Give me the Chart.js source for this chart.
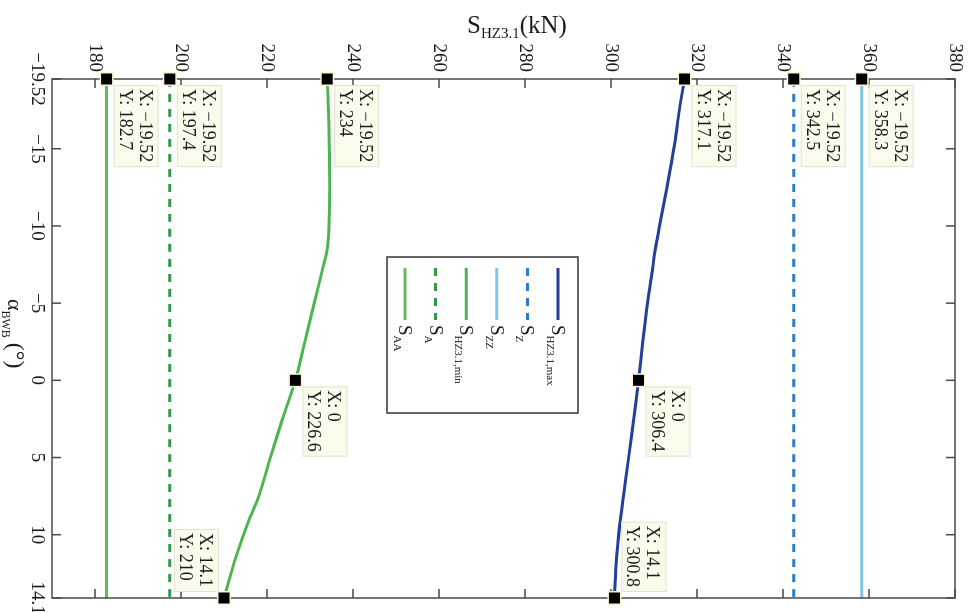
<!DOCTYPE html>
<html>
<head>
<meta charset="utf-8">
<script src="https://cdn.jsdelivr.net/npm/chart.js@4.4.1/dist/chart.umd.min.js"></script>
<style>
  html, body { margin: 0; padding: 0; background: #fff; overflow: hidden; }
  /* the figure is printed turned a quarter clockwise, so draw it upright and rotate */
  #wrap { position: absolute; left: 0; top: 0; width: 612px; height: 969px;
          transform-origin: 0 0; transform: translateX(969px) rotate(90deg); }
</style>
</head>
<body>
<div id="wrap"><canvas id="forceChart" width="612" height="969"></canvas></div>
<script>
// angle alpha_BWB (deg) and forces S (kN)
const alphaCurve = [-19.52, -17.5, -15, -12.5, -10, -8.5, -7.3, -5, -2.5, 0, 2.5, 5, 7.5, 9.2, 11.5, 14.1];
const sHzMin = [234, 234.3, 234.5, 234.6, 234.4, 234.0, 233.0, 231.0, 228.8, 226.6, 223.6, 220.8, 218.1, 215.6, 212.7, 210];
const sHzMax = [317.1, 315.9, 314.6, 313.0, 311.3, 310.3, 309.7, 308.5, 307.4, 306.4, 305.3, 304.1, 302.9, 302.1, 301.3, 300.8];
const alphaEnds = [-19.52, 14.1];
const sAA = [182.7, 182.7];
const sA = [197.4, 197.4];
const sZZ = [358.3, 358.3];
const sZ = [342.5, 342.5];

const alphaTicks = [-19.52, -15, -10, -5, 0, 5, 10, 14.1];
const forceTicks = [180, 200, 220, 240, 260, 280, 300, 320, 340, 360, 380];

// legend order (top to bottom) and dataset index
const legendSubs = ['HZ3.1,max', 'Z', 'ZZ', 'HZ3.1,min', 'A', 'AA'];
const legendSets = [5, 4, 3, 2, 1, 0];

// data tips: dataset index, alpha, where the box goes
const tipSets = [0, 1, 2, 2, 2, 3, 4, 5, 5, 5];
const tipAlpha = [-19.52, -19.52, -19.52, 0, 14.1, -19.52, -19.52, -19.52, 0, 14.1];
const tipPlace = ['ur', 'ur', 'ur', 'ur', 'dl', 'ur', 'ur', 'ur', 'ur', 'ul'];

const SERIF = '"Liberation Serif", "Times New Roman", serif';
const fmt = v => String(v).replace('-', '\u2212');
const pts = (xs, ys) => xs.map((x, i) => ({ x: x, y: ys[i] }));

function line(label, data, color, dash) {
    return {
        label: label, data: data, showLine: true, borderColor: color, backgroundColor: color,
        borderWidth: 3, borderDash: dash || [], pointRadius: 0, tension: 0.3, fill: false
    };
}

function drawParts(ctx, x, y, parts) {
    let cx = x;
    parts.forEach(function (p) {
        ctx.font = p[1] + 'px ' + SERIF;
        ctx.fillText(p[0], cx, y + p[2]);
        cx += ctx.measureText(p[0]).width + (p[3] || 0);
    });
    return cx - x;
}

function partsWidth(ctx, parts) {
    let w = 0;
    parts.forEach(function (p) {
        ctx.font = p[1] + 'px ' + SERIF;
        w += ctx.measureText(p[0]).width + (p[3] || 0);
    });
    return w;
}

const matlabLook = {
    id: 'matlabLook',
    afterDatasetsDraw(chart) {
        const ctx = chart.ctx, a = chart.chartArea, x = chart.scales.x, y = chart.scales.y;
        ctx.save();
        ctx.strokeStyle = '#4a4a4a';
        ctx.lineWidth = 1.5;
        ctx.strokeRect(a.left, a.top, a.width, a.height);
        ctx.beginPath();
        alphaTicks.forEach(function (v) {
            const px = x.getPixelForValue(v);
            ctx.moveTo(px, a.bottom); ctx.lineTo(px, a.bottom - 9);
            ctx.moveTo(px, a.top); ctx.lineTo(px, a.top + 9);
        });
        forceTicks.forEach(function (v) {
            const py = y.getPixelForValue(v);
            ctx.moveTo(a.left, py); ctx.lineTo(a.left + 9, py);
            ctx.moveTo(a.right, py); ctx.lineTo(a.right - 9, py);
        });
        ctx.stroke();

        // axis titles
        ctx.fillStyle = '#1a1a1a';
        ctx.textBaseline = 'alphabetic';
        ctx.textAlign = 'left';
        drawParts(ctx, 299, 961, [['\u03b1', 22, 0], ['BWB', 12, 6, 5], ['(\u00b0)', 24, 0]]);

        const yParts = [['S', 25, 0], ['HZ3.1', 15, 5], ['(kN)', 25, 0]];
        const yw = partsWidth(ctx, yParts);
        ctx.save();
        ctx.translate(33, 452 + yw / 2);
        ctx.rotate(-Math.PI / 2);
        drawParts(ctx, 0, 0, yParts);
        ctx.restore();

        // legend
        const lx = 257, ly = 391, lw = 156, lh = 191;
        ctx.fillStyle = '#fff';
        ctx.fillRect(lx, ly, lw, lh);
        ctx.strokeStyle = '#333';
        ctx.lineWidth = 1.5;
        ctx.strokeRect(lx, ly, lw, lh);
        legendSubs.forEach(function (sub, i) {
            const ds = chart.data.datasets[legendSets[i]];
            const yy = 411 + i * 30.6;
            ctx.strokeStyle = ds.borderColor;
            ctx.lineWidth = 3;
            ctx.setLineDash(ds.borderDash);
            ctx.beginPath();
            ctx.moveTo(268, yy); ctx.lineTo(320, yy);
            ctx.stroke();
            ctx.setLineDash([]);
            ctx.fillStyle = '#1a1a1a';
            drawParts(ctx, 325, yy + 6, [['S', 19, 0], [sub, 11, 5]]);
        });
        ctx.restore();
    },
    afterDraw(chart) {
        const ctx = chart.ctx, x = chart.scales.x, y = chart.scales.y;
        ctx.save();
        tipSets.forEach(function (si, i) {
            const p = chart.data.datasets[si].data.find(d => d.x === tipAlpha[i]);
            const px = x.getPixelForValue(p.x), py = y.getPixelForValue(p.y);
            const l1 = 'X: ' + fmt(p.x), l2 = 'Y: ' + fmt(p.y);
            ctx.font = '18px ' + SERIF;
            const bw = Math.max(ctx.measureText(l1).width, ctx.measureText(l2).width) + 9, bh = 45;
            let bx, by;
            if (tipPlace[i] === 'ur') { bx = px + 6; by = py - 7 - bh; }
            else if (tipPlace[i] === 'ul') { bx = px - 6 - bw; by = py - 7 - bh; }
            else { bx = px - 6 - bw; by = py + 5; }
            ctx.fillStyle = '#fbfbec';
            ctx.fillRect(bx, by, bw, bh);
            ctx.strokeStyle = '#e2e2cf';
            ctx.lineWidth = 1;
            ctx.strokeRect(bx + 0.5, by + 0.5, bw - 1, bh - 1);
            ctx.fillStyle = '#1a1a1a';
            ctx.textBaseline = 'alphabetic';
            ctx.fillText(l1, bx + 4, by + 19);
            ctx.fillText(l2, bx + 4, by + 39);
            ctx.fillStyle = '#fbf5cf';
            ctx.fillRect(px - 7, py - 7, 14, 14);
            ctx.fillStyle = '#000';
            ctx.fillRect(px - 5.5, py - 5.5, 11, 11);
        });
        ctx.restore();
    }
};

const ctx = document.getElementById('forceChart').getContext('2d');
const forceChart = new Chart(ctx, {
    type: 'scatter',
    data: {
        datasets: [
            line('S_AA', pts(alphaEnds, sAA), '#63ba58'),
            line('S_A', pts(alphaEnds, sA), '#2c9a46', [8, 7]),
            line('S_HZ3.1,min', pts(alphaCurve, sHzMin), '#4db550'),
            line('S_ZZ', pts(alphaEnds, sZZ), '#7cc8e6'),
            line('S_Z', pts(alphaEnds, sZ), '#2b7dc8', [8, 7]),
            line('S_HZ3.1,max', pts(alphaCurve, sHzMax), '#233f9a')
        ]
    },
    options: {
        responsive: false,
        devicePixelRatio: 1,
        animation: false,
        layout: { padding: { top: 14, right: 14, left: 0, bottom: 0 } },
        plugins: { legend: { display: false }, tooltip: { enabled: false } },
        scales: {
            x: {
                type: 'linear', min: -19.52, max: 14.1,
                afterBuildTicks: s => { s.ticks = alphaTicks.map(v => ({ value: v })); },
                afterFit: s => { s.height = 52; s.paddingLeft = 0; s.paddingRight = 0; },
                grid: { display: false, drawTicks: false },
                border: { display: false },
                ticks: { font: { family: SERIF, size: 19 }, color: '#1a1a1a', padding: 4,
                         maxRotation: 0, autoSkip: false, callback: v => fmt(v) }
            },
            y: {
                type: 'linear', min: 170, max: 380,
                afterBuildTicks: s => { s.ticks = forceTicks.map(v => ({ value: v })); },
                afterFit: s => { s.width = 79; s.paddingTop = 0; s.paddingBottom = 0; },
                grid: { display: false, drawTicks: false },
                border: { display: false },
                ticks: { font: { family: SERIF, size: 19 }, color: '#1a1a1a', padding: 7,
                         autoSkip: false, callback: v => fmt(v) }
            }
        }
    },
    plugins: [matlabLook]
});
</script>
</body>
</html>
